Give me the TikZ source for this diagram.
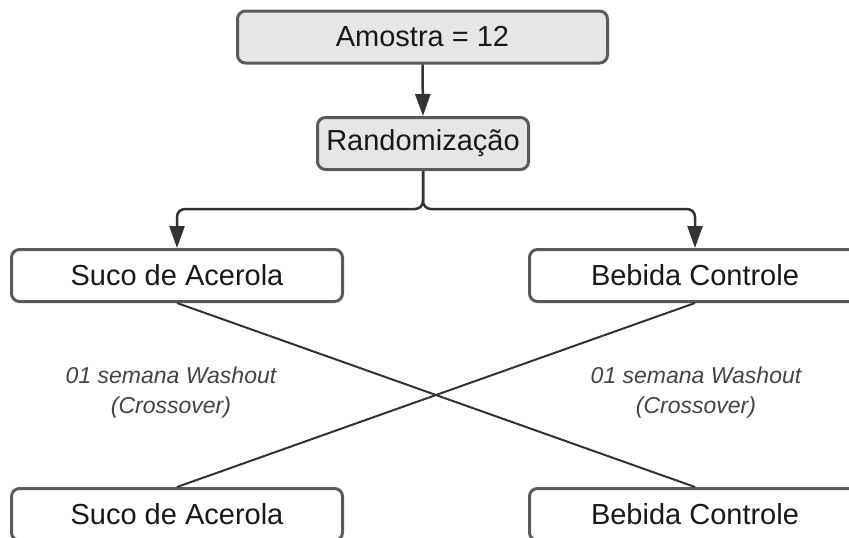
\documentclass[tikz,border=0pt]{standalone}
\usepackage{fontspec}
\setmainfont{Liberation Sans}
\usetikzlibrary{arrows.meta}
\definecolor{boxline}{HTML}{5A5A5A}
\definecolor{boxgrey}{HTML}{E6E6E6}
\definecolor{conn}{HTML}{333333}
\definecolor{labtxt}{HTML}{444444}
\tikzset{
  box/.style={draw=boxline, line width=3pt, rounded corners=8pt, fill=white,
    minimum height=52pt, inner sep=0pt, text=black!90,
    font=\fontsize{29}{34}\selectfont},
  greybox/.style={box, fill=boxgrey},
  arrowline/.style={draw=conn, line width=2.5pt, rounded corners=8pt,
    -{Triangle[length=22pt,width=15pt]}},
  crossline/.style={draw=conn, line width=2pt},
  lab/.style={text=labtxt, align=center, inner sep=0pt,
    font=\fontsize{23}{30}\selectfont\itshape}
}
\begin{document}
\begin{tikzpicture}[x=1pt,y=-1pt]
\useasboundingbox (0,0) rectangle (849,538);
\clip (0,0) rectangle (849,538);
\node[greybox, minimum width=370pt] (amostra) at (422.5,37) {Amostra = 12};
\node[greybox, minimum width=211pt] (rand) at (423,143.5) {Randomização};
\node[box, minimum width=331pt] (sucoA) at (177,275.5) {Suco de Acerola};
\node[box, minimum width=331pt] (bebA) at (695,275.5) {Bebida Controle};
\node[box, minimum width=331pt] (sucoB) at (177,514.5) {Suco de Acerola};
\node[box, minimum width=331pt] (bebB) at (695,514.5) {Bebida Controle};
\coordinate (split) at (423,209);
\draw[arrowline] (amostra.south) -- (rand.north);
\draw[arrowline] (rand.south) -- (split) -| (sucoA.north);
\draw[arrowline] (rand.south) -- (split) -| (bebA.north);
\draw[crossline] (sucoA.south) -- (bebB.north);
\draw[crossline] (bebA.south) -- (sucoB.north);
\node[lab] (labL) at (171,393) {01 semana Washout\\(Crossover)};
\node[lab] (labR) at (696,393) {01 semana Washout\\(Crossover)};
\end{tikzpicture}
\end{document}
